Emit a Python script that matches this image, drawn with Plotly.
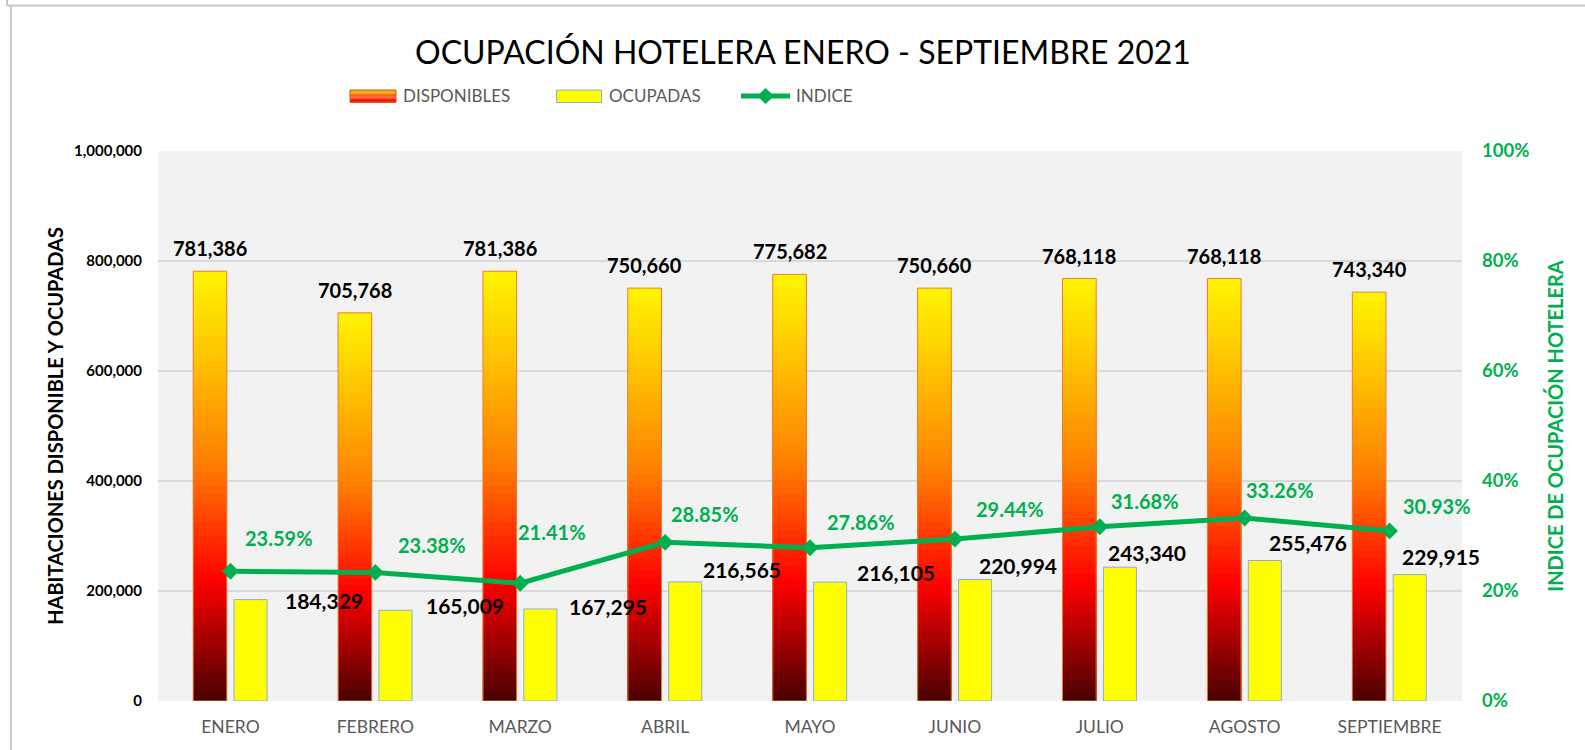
import plotly.graph_objects as go

# ---------------- data ----------------
MESES = ["ENERO", "FEBRERO", "MARZO", "ABRIL", "MAYO", "JUNIO", "JULIO", "AGOSTO", "SEPTIEMBRE"]
DISPONIBLES = [781386, 705768, 781386, 750660, 775682, 750660, 768118, 768118, 743340]
OCUPADAS = [184329, 165009, 167295, 216565, 216105, 220994, 243340, 255476, 229915]
INDICE = [0.2359, 0.2338, 0.2141, 0.2885, 0.2786, 0.2944, 0.3168, 0.3326, 0.3093]

TITLE = "OCUPACIÓN HOTELERA ENERO - SEPTIEMBRE 2021"
Y_TITLE = "HABITACIONES DISPONIBLE Y OCUPADAS"
Y2_TITLE = "INDICE DE OCUPACIÓN HOTELERA"

# ---------------- style ----------------
FONT = "Lato"
GREEN = "#00b050"
GRAY_TXT = "#595959"
W, H = 1585, 750
ML, MR, MT, MB = 158, 123, 151, 49
PW, PH = W - ML - MR, H - MT - MB

DISP_OFF, DISP_W = -0.257, 0.232
OCC_OFF, OCC_W = 0.025, 0.228

# label pixel offsets (style only)
OCC_DX = [73, 70, 68, 57, 66, 43, 27, 43, 31]
OCC_DY = [-1, 5, 2, 12, 10, 14, 15, 18, 18]
IDX_DX = [49, 57, 32, 40, 51, 55, 45, 35, 47]
IDX_DY = [33, 27, 51, 28, 26, 30, 26, 28, 25]

STOPS = [(0.0, (72, 0, 0)), (0.28, (255, 0, 0)), (0.55, (255, 125, 0)),
         (0.80, (255, 195, 0)), (1.0, (255, 245, 0))]


def grad(t):
    for (t0, c0), (t1, c1) in zip(STOPS[:-1], STOPS[1:]):
        if t <= t1:
            f = (t - t0) / (t1 - t0)
            return "rgb(%d,%d,%d)" % tuple(round(a + (b - a) * f) for a, b in zip(c0, c1))
    return "rgb(%d,%d,%d)" % STOPS[-1][1]


def px(x):
    return (x - ML) / PW


def py(y):
    return (H - MB - y) / PH


fig = go.Figure()

# gradient-filled DISPONIBLES bars: nested bars from full height down
N = 60
for k in reversed(range(N)):
    frac = (k + 1) / N
    fig.add_trace(go.Bar(
        x=MESES, y=[v * frac for v in DISPONIBLES], offset=DISP_OFF, width=DISP_W,
        marker=dict(color=grad((k + 0.5) / N), line=dict(width=0)),
        showlegend=False, hoverinfo="skip"))

# outline of DISPONIBLES
fig.add_trace(go.Bar(
    x=MESES, y=DISPONIBLES, name="DISPONIBLES", offset=DISP_OFF, width=DISP_W,
    marker=dict(color="rgba(0,0,0,0)", line=dict(color="#ed7d31", width=1)),
    showlegend=False))

# OCUPADAS
fig.add_trace(go.Bar(
    x=MESES, y=OCUPADAS, name="OCUPADAS", offset=OCC_OFF, width=OCC_W,
    marker=dict(color="#ffff00", line=dict(color="#8faadc", width=1)),
    showlegend=False))

# INDICE
fig.add_trace(go.Scatter(
    x=MESES, y=INDICE, name="INDICE", yaxis="y2", mode="lines+markers",
    line=dict(color=GREEN, width=5),
    marker=dict(symbol="diamond", size=13, color=GREEN),
    showlegend=False))

ann = []
for i, v in enumerate(DISPONIBLES):
    ann.append(dict(x=i + DISP_OFF + DISP_W / 2, y=v, xref="x", yref="y",
                    text=f"{v:,}", showarrow=False, yanchor="middle", yshift=23,
                    font=dict(family=FONT, size=20, color="black", weight="bold")))
for i, v in enumerate(OCUPADAS):
    ann.append(dict(x=i + OCC_OFF + OCC_W / 2, y=v, xref="x", yref="y",
                    text=f"{v:,}", showarrow=False, yanchor="middle",
                    xshift=OCC_DX[i], yshift=OCC_DY[i],
                    font=dict(family=FONT, size=21, color="black", weight="bold")))
for i, v in enumerate(INDICE):
    ann.append(dict(x=i, y=v, xref="x", yref="y2",
                    text=f"{v * 100:.2f}%", showarrow=False, yanchor="middle",
                    xshift=IDX_DX[i], yshift=IDX_DY[i],
                    font=dict(family=FONT, size=20, color=GREEN, weight="bold")))

# manual legend
LEG_Y = 96
legend_items = [("DISPONIBLES", 401), ("OCUPADAS", 607), ("INDICE", 794)]
for name, x0 in legend_items:
    ann.append(dict(x=px(x0), y=py(LEG_Y), xref="paper", yref="paper", text=name,
                    showarrow=False, xanchor="left", yanchor="middle",
                    font=dict(family=FONT, size=17, color=GRAY_TXT)))

shapes = []
# gradient swatch
NS = 10
sy0, sy1 = 90, 102.5
for k in range(NS):
    ya = sy0 + (sy1 - sy0) * k / NS
    yb = sy0 + (sy1 - sy0) * (k + 1) / NS
    t = 0.72 - 0.5 * (k + 0.5) / NS
    shapes.append(dict(type="rect", xref="paper", yref="paper",
                       x0=px(350), x1=px(396), y0=py(ya), y1=py(yb),
                       fillcolor=grad(t), line=dict(width=0), layer="above"))
shapes.append(dict(type="rect", xref="paper", yref="paper",
                   x0=px(350), x1=px(396), y0=py(sy0), y1=py(sy1),
                   line=dict(color="#c55a11", width=1), layer="above"))
shapes.append(dict(type="rect", xref="paper", yref="paper",
                   x0=px(556.5), x1=px(601.5), y0=py(sy0), y1=py(sy1),
                   fillcolor="#ffff00", line=dict(color="#8faadc", width=1), layer="above"))
shapes.append(dict(type="line", xref="paper", yref="paper",
                   x0=px(741), x1=px(790), y0=py(LEG_Y), y1=py(LEG_Y),
                   line=dict(color=GREEN, width=5), layer="above"))
shapes.append(dict(type="path", xref="paper", yref="paper",
                   path="M {a},{c} L {b},{d} L {e},{c} L {b},{f} Z".format(
                       a=px(757), b=px(765.5), e=px(774), c=py(LEG_Y), d=py(LEG_Y - 8), f=py(LEG_Y + 8)),
                   fillcolor=GREEN, line=dict(color=GREEN, width=0), layer="above"))
# sheet frame lines
FRAME = "#c8c8c8"
shapes.append(dict(type="line", xref="paper", yref="paper", x0=px(7), x1=px(W + 5),
                   y0=py(5.5), y1=py(5.5), line=dict(color=FRAME, width=2)))
shapes.append(dict(type="line", xref="paper", yref="paper", x0=px(11), x1=px(11),
                   y0=py(6), y1=py(H + 5), line=dict(color=FRAME, width=2)))
shapes.append(dict(type="line", xref="paper", yref="paper", x0=px(7), x1=px(7),
                   y0=py(-5), y1=py(5.5), line=dict(color=FRAME, width=2)))

fig.update_layout(
    width=W, height=H,
    margin=dict(l=ML, r=MR, t=MT, b=MB, autoexpand=False),
    paper_bgcolor="white", plot_bgcolor="#f2f2f2",
    barmode="overlay",
    showlegend=False,
    font=dict(family=FONT),
    title=dict(text=TITLE, x=px(803), xanchor="center", xref="paper",
               y=1 - 52.6 / H, yanchor="middle", yref="container",
               font=dict(family=FONT, size=32, color="black")),
    xaxis=dict(type="category", categoryorder="array", categoryarray=MESES,
               range=[-0.5, len(MESES) - 0.5], showgrid=False, zeroline=False,
               showline=False, ticks="", ticklabelstandoff=13,
               tickfont=dict(family=FONT, size=17.5, color=GRAY_TXT)),
    yaxis=dict(range=[0, 1000000], dtick=200000, tickformat=",",
               showgrid=True, gridcolor="#d9d9d9", gridwidth=1.5, zeroline=False,
               showline=False, ticks="", ticklabelstandoff=15,
               tickfont=dict(family=FONT, size=15, color="black", weight="bold"),
               title=dict(text=Y_TITLE, standoff=5,
                          font=dict(family=FONT, size=20, color="black", weight="bold"))),
    yaxis2=dict(overlaying="y", side="right", range=[0, 1], dtick=0.2, tickformat=".0%",
                showgrid=False, zeroline=False, showline=False, ticks="",
                ticklabelstandoff=19,
                tickfont=dict(family=FONT, size=18.5, color=GREEN, weight="bold"),
                title=dict(text=Y2_TITLE, standoff=20,
                           font=dict(family=FONT, size=20, color=GREEN, weight="bold"))),
    annotations=ann,
    shapes=shapes,
)

fig.write_html("out.html", config={"displayModeBar": False},
               post_script="document.body.style.margin='0px';")
